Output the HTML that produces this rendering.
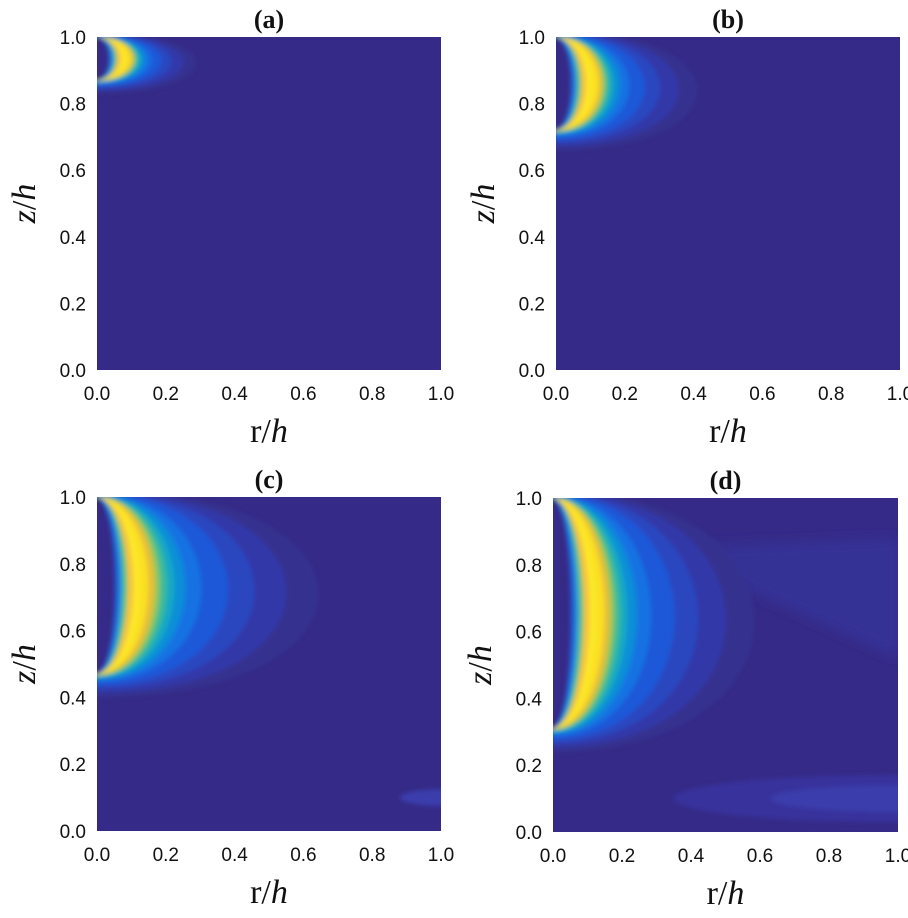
<!DOCTYPE html>
<html><head><meta charset="utf-8">
<style>
html,body{margin:0;padding:0;background:#fff;}
body{width:908px;height:913px;position:relative;overflow:hidden;font-family:"Liberation Sans",sans-serif;}
</style></head>
<body>
<svg id="s" width="908" height="913" xmlns="http://www.w3.org/2000/svg">
<defs><filter id="bl" x="-20%" y="-20%" width="140%" height="140%"><feGaussianBlur stdDeviation="2.2"/></filter>
<filter id="bl2"><feGaussianBlur stdDeviation="6"/></filter></defs>
</svg>
<script>
const svg=document.getElementById('s');
const NS='http://www.w3.org/2000/svg';
function el(t,a,p){const e=document.createElementNS(NS,t);for(const k in a)e.setAttribute(k,a[k]);(p||svg).appendChild(e);return e;}
const panels=[
 {x:97,y:37,W:344,H:333,z0:0.87,p:0.10,t:'(a)',ext:2.9},
 {x:556,y:37,W:344,H:333,z0:0.72,p:0.125,t:'(b)',ext:3.3},
 {x:97,y:497,W:344,H:334,z0:0.47,p:0.15,t:'(c)',ext:4.3},
 {x:553,y:498,W:345,H:334,z0:0.31,p:0.15,t:'(d)',ext:3.9}
];
const layers=[
 [4.2,'#36308f'],[3.6,'#3338a8'],[3.0,'#2c46c0'],[2.5,'#1d58d8'],[2.0,'#1272e2'],[1.7,'#0b8ed8'],
 [1.5,'#12a8c4'],[1.35,'#3cbc98'],[1.22,'#98c658'],[1.12,'#e8c038'],[1.0,'#fbe020'],[0.85,'#fce82a'],
 [0.72,'#f6c43a'],[0.6,'#5cbf8c'],[0.5,'#1a8ae0'],[0.42,'#2050c8'],[0.35,'#352a87']
];
panels.forEach((P,i)=>{
 const g=el('g',{transform:`translate(${P.x},${P.y})`});
 const cid='c'+i;
 const cp=el('clipPath',{id:cid},svg.querySelector('defs'));
 el('rect',{x:0,y:0,width:P.W,height:P.H},cp);
 const inner=el('g',{'clip-path':`url(#${cid})`},g);
 el('rect',{x:0,y:0,width:P.W,height:P.H,fill:'#352a87'},inner);
 if(i==3){
   el('ellipse',{cx:P.W*0.95,cy:P.H*0.9,rx:P.W*0.6,ry:P.H*0.07,fill:'#37339c',filter:'url(#bl)'},inner);
   el('ellipse',{cx:P.W*0.98,cy:P.H*0.9,rx:P.W*0.35,ry:P.H*0.04,fill:'#3a3cac',filter:'url(#bl)'},inner);
   el('path',{d:`M ${P.W*0.3} ${P.H*0.15} L ${P.W} ${P.H*0.12} L ${P.W} ${P.H*0.48} Z`,fill:'#363096',filter:'url(#bl2)'},inner);
 }
 if(i==2){
   el('ellipse',{cx:P.W,cy:P.H*0.9,rx:P.W*0.12,ry:P.H*0.025,fill:'#3a3cac',filter:'url(#bl)'},inner);
 }
 const lg=el('g',{filter:'url(#bl)'},inner);
 layers.forEach(([f,c])=>{
   const fe = f>1 ? 1+(f-1)*(P.ext-1)/3.2 : f;
   const w=fe*P.p*P.W*1.333;
   let ext = f>1 ? (f-1)*0.022*Math.min(1,(1-P.z0)/0.5+0.3) : 0;
   const yB=(1-(P.z0-ext))*P.H;
   const yTop=f>1? -ext*P.H*0.3 : 0;
   el('path',{d:`M -2 ${yTop} C ${w} ${yTop} ${w} ${yB} -2 ${yB} Z`,fill:c},lg);
 });
 for(let k=0;k<=5;k++){
   const v=(k*0.2).toFixed(1);
   el('text',{x:-11,y:P.H-k*P.H/5+7,'text-anchor':'end','font-size':'19','fill':'#111','font-family':'Liberation Sans, sans-serif'},g).textContent=v;
   el('text',{x:k*P.W/5,y:P.H+30,'text-anchor':'middle','font-size':'19','fill':'#111','font-family':'Liberation Sans, sans-serif'},g).textContent=v;
 }
 const t=el('text',{x:P.W/2,y:P.H+72,'text-anchor':'middle','font-size':'34','fill':'#111','font-family':'Liberation Serif, serif'},g);
 t.innerHTML='r/<tspan font-style="italic">h</tspan>';
 const zl=el('text',{x:0,y:0,'text-anchor':'middle','font-size':'34','fill':'#111','font-family':'Liberation Serif, serif',transform:`translate(-62 ${P.H/2}) rotate(-90)`},g);
 zl.innerHTML='<tspan font-style="italic">z</tspan>/<tspan font-style="italic">h</tspan>';
 el('text',{x:P.W/2,y:-9,'text-anchor':'middle','font-size':'26','font-weight':'bold','fill':'#111','font-family':'Liberation Serif, serif'},g).textContent=P.t;
});
</script>
</body></html>
